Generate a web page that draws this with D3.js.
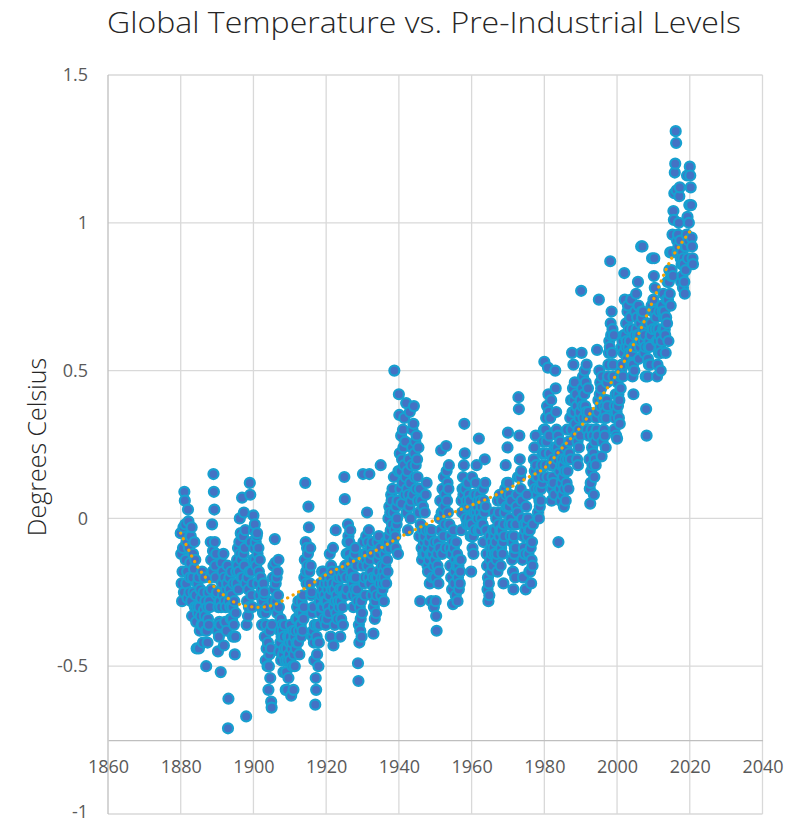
<!DOCTYPE html>
<html>
<head>
<meta charset="utf-8">
<script src="https://cdn.jsdelivr.net/npm/d3@7"></script>
<style>
  body { margin: 0; background: #fff; }
  text { font-family: "Open Sans", "DejaVu Sans", sans-serif; }
</style>
</head>
<body>
<div class="chart-container" id="svg-container"></div>
<script>
const svgWidth = 804;
const svgHeight = 822;
const chartTitle = "Global Temperature vs. Pre-Industrial Levels";
const yAxisLabel = "Degrees Celsius";

const xTicks = [1860, 1880, 1900, 1920, 1940, 1960, 1980, 2000, 2020, 2040];
const yTicks = [-1, -0.5, 0, 0.5, 1, 1.5];
const yTickLabels = ["-1", "-0.5", "0", "0.5", "1", "1.5"];

// eight readings per year
const t1880s = [
  [-0.05, -0.12, -0.22, -0.28, -0.18, -0.10, -0.03, -0.25],
  [0.09, 0.06, -0.02, -0.14, -0.22, -0.08, -0.18, -0.27],
  [0.03, -0.01, -0.10, -0.25, -0.20, -0.15, -0.06, -0.28],
  [-0.03, -0.33, -0.20, -0.12, -0.25, -0.17, -0.08, -0.30],
  [-0.14, -0.26, -0.35, -0.44, -0.30, -0.22, -0.32, -0.20],
  [-0.44, -0.30, -0.38, -0.24, -0.33, -0.27, -0.36, -0.18],
  [-0.36, -0.42, -0.25, -0.31, -0.20, -0.33, -0.28, -0.38],
  [-0.50, -0.38, -0.30, -0.42, -0.34, -0.25, -0.36, -0.28],
  [-0.30, -0.20, -0.08, -0.14, -0.24, -0.02, -0.18, -0.11],
  [0.15, 0.09, 0.03, -0.08, -0.16, -0.20, -0.12, -0.26]
];
const t1890s = [
  [-0.25, -0.38, -0.45, -0.30, -0.40, -0.35, -0.28, -0.36],
  [-0.52, -0.30, -0.15, -0.22, -0.18, -0.26, -0.12, -0.43],
  [-0.20, -0.28, -0.35, -0.30, -0.24, -0.38, -0.22, -0.16],
  [-0.71, -0.61, -0.28, -0.20, -0.24, -0.30, -0.34, -0.18],
  [-0.26, -0.34, -0.30, -0.40, -0.22, -0.36, -0.28, -0.46],
  [-0.40, -0.32, -0.18, -0.22, -0.14, -0.16, -0.10, -0.24],
  [-0.18, -0.08, 0.00, -0.12, -0.05, -0.14, -0.20, 0.07],
  [-0.20, -0.06, -0.12, 0.02, -0.16, -0.10, -0.04, -0.22],
  [-0.67, -0.36, -0.28, -0.20, -0.33, -0.24, -0.30, -0.18],
  [0.12, 0.08, -0.08, -0.18, -0.26, -0.30, -0.22, -0.14]
];
const t1900s = [
  [0.01, -0.04, -0.10, -0.02, -0.14, -0.08, -0.16, -0.06],
  [-0.05, -0.12, -0.22, -0.10, -0.18, -0.26, -0.14, -0.20],
  [-0.20, -0.30, -0.24, -0.36, -0.28, -0.32, -0.22, -0.26],
  [-0.25, -0.40, -0.32, -0.48, -0.36, -0.44, -0.30, -0.50],
  [-0.42, -0.58, -0.50, -0.46, -0.38, -0.54, -0.44, -0.62],
  [-0.64, -0.36, -0.28, -0.20, -0.16, -0.24, -0.30, -0.07],
  [-0.15, -0.22, -0.28, -0.20, -0.32, -0.18, -0.26, -0.14],
  [-0.30, -0.45, -0.38, -0.42, -0.34, -0.48, -0.40, -0.36],
  [-0.38, -0.46, -0.52, -0.40, -0.44, -0.36, -0.48, -0.58],
  [-0.52, -0.44, -0.58, -0.48, -0.40, -0.54, -0.46, -0.42]
];
const t1910s = [
  [-0.40, -0.48, -0.36, -0.60, -0.44, -0.42, -0.50, -0.38],
  [-0.58, -0.46, -0.40, -0.50, -0.38, -0.44, -0.34, -0.42],
  [-0.30, -0.34, -0.42, -0.28, -0.38, -0.46, -0.32, -0.36],
  [-0.36, -0.40, -0.28, -0.32, -0.38, -0.26, -0.34, -0.30],
  [-0.20, -0.14, 0.12, -0.08, -0.18, -0.22, -0.10, -0.16],
  [-0.12, 0.04, -0.03, -0.18, -0.22, -0.10, -0.16, -0.26],
  [-0.25, -0.32, -0.40, -0.38, -0.30, -0.42, -0.48, -0.36],
  [-0.63, -0.54, -0.58, -0.40, -0.46, -0.36, -0.42, -0.50],
  [-0.42, -0.36, -0.28, -0.32, -0.22, -0.26, -0.30, -0.18],
  [-0.24, -0.30, -0.18, -0.34, -0.26, -0.22, -0.28, -0.36]
];
const t1920s = [
  [-0.20, -0.28, -0.34, -0.24, -0.30, -0.22, -0.32, -0.26],
  [-0.12, -0.20, -0.40, -0.16, -0.24, -0.18, -0.22, -0.10],
  [-0.43, -0.30, -0.24, -0.36, -0.28, -0.04, -0.32, -0.26],
  [-0.22, -0.34, -0.28, -0.20, -0.30, -0.18, -0.24, -0.40],
  [-0.28, -0.34, -0.20, -0.24, -0.30, -0.36, -0.18, -0.26],
  [0.14, 0.065, -0.16, -0.26, -0.20, -0.12, -0.24, -0.08],
  [-0.02, -0.06, -0.12, -0.08, -0.16, -0.04, -0.14, -0.20],
  [-0.18, -0.26, -0.14, -0.22, -0.30, -0.20, -0.24, -0.12],
  [-0.10, -0.20, -0.26, -0.16, -0.24, -0.28, -0.49, -0.55],
  [-0.36, -0.42, -0.30, -0.38, -0.34, -0.28, -0.40, -0.32]
];
const t1930s = [
  [-0.16, 0.15, -0.08, -0.22, -0.12, -0.20, -0.26, -0.14],
  [-0.06, -0.12, 0.02, -0.16, -0.08, -0.20, -0.04, 0.15],
  [-0.14, -0.22, -0.10, -0.18, -0.26, -0.12, -0.08, -0.20],
  [-0.39, -0.30, -0.24, -0.34, -0.28, -0.20, -0.32, -0.26],
  [-0.20, -0.08, -0.14, -0.18, -0.06, -0.12, -0.22, -0.10],
  [0.18, -0.26, -0.20, -0.16, -0.24, -0.22, -0.18, -0.28],
  [-0.20, -0.12, -0.16, -0.08, -0.22, -0.10, -0.14, -0.18],
  [-0.08, 0.00, -0.06, 0.04, -0.10, 0.02, -0.04, 0.08],
  [0.06, -0.02, 0.10, -0.08, 0.02, 0.14, 0.50, -0.04],
  [-0.06, -0.10, 0.04, -0.02, 0.00, 0.06, -0.12, 0.16]
];
const t1940s = [
  [0.42, 0.35, 0.22, 0.10, 0.16, 0.28, 0.05, 0.20],
  [0.12, 0.30, 0.24, 0.18, 0.34, 0.08, 0.26, 0.14],
  [0.39, 0.02, 0.10, 0.16, -0.04, 0.08, 0.20, 0.04],
  [0.36, 0.12, 0.00, 0.06, 0.18, 0.24, 0.30, 0.08],
  [0.32, 0.38, 0.22, 0.14, 0.26, 0.18, 0.10, 0.28],
  [0.20, 0.14, 0.06, 0.24, 0.02, -0.06, 0.10, -0.28],
  [-0.02, 0.06, -0.10, -0.14, -0.04, 0.04, -0.12, -0.08],
  [-0.06, 0.02, -0.12, 0.08, -0.04, 0.12, -0.10, -0.16],
  [-0.18, -0.08, -0.14, -0.04, -0.22, -0.12, -0.06, -0.28],
  [-0.04, -0.12, -0.20, -0.10, -0.16, -0.30, -0.08, -0.14]
];
const t1950s = [
  [-0.20, -0.28, -0.33, -0.38, -0.12, -0.16, -0.08, -0.22],
  [-0.18, -0.10, 0.00, 0.06, -0.04, 0.23, 0.02, -0.12],
  [0.10, 0.02, -0.06, 0.14, 0.04, -0.02, 0.08, -0.10],
  [0.245, 0.16, 0.06, 0.12, 0.02, 0.10, 0.18, -0.02],
  [-0.10, -0.16, -0.06, -0.20, -0.12, -0.24, -0.08, -0.29],
  [-0.04, -0.10, -0.22, -0.18, -0.14, -0.26, -0.08, -0.16],
  [-0.12, -0.28, -0.20, -0.16, -0.24, -0.14, -0.22, -0.18],
  [-0.14, -0.04, 0.06, 0.02, 0.10, 0.14, 0.08, 0.18],
  [0.32, 0.22, 0.10, 0.04, 0.00, 0.06, -0.02, 0.12],
  [0.12, 0.04, 0.08, -0.02, 0.06, 0.00, -0.06, -0.18]
];
const t1960s = [
  [-0.02, 0.14, -0.10, -0.06, -0.12, 0.02, 0.08, -0.04],
  [0.08, 0.12, 0.02, 0.18, 0.04, 0.00, 0.06, -0.04],
  [0.27, 0.08, 0.02, -0.04, 0.06, 0.00, 0.04, -0.02],
  [-0.02, 0.10, -0.08, 0.06, 0.02, 0.20, 0.12, 0.04],
  [-0.04, -0.12, -0.16, -0.24, -0.20, -0.28, -0.22, -0.26],
  [-0.06, -0.14, -0.10, -0.18, -0.08, -0.12, -0.16, -0.04],
  [-0.10, 0.02, -0.06, -0.12, -0.04, -0.08, 0.00, -0.14],
  [-0.12, -0.18, 0.06, -0.02, 0.02, -0.06, 0.08, -0.04],
  [-0.16, -0.10, -0.04, 0.06, -0.12, -0.08, -0.22, -0.02],
  [-0.06, 0.02, 0.10, 0.18, 0.08, 0.04, 0.12, 0.24]
];
const t1970s = [
  [0.29, 0.12, 0.04, -0.02, 0.08, 0.00, -0.06, 0.06],
  [-0.02, -0.14, -0.08, -0.18, -0.24, -0.06, -0.12, -0.10],
  [-0.20, -0.10, -0.02, 0.04, 0.08, 0.02, 0.14, 0.41],
  [0.37, 0.28, 0.20, 0.14, 0.10, 0.16, 0.06, 0.00],
  [-0.14, -0.20, -0.06, -0.10, -0.02, -0.12, -0.04, -0.24],
  [0.04, -0.02, 0.08, -0.06, 0.00, -0.12, -0.04, -0.18],
  [-0.04, -0.18, -0.10, -0.22, -0.14, -0.08, -0.16, -0.02],
  [0.12, 0.20, 0.24, 0.16, 0.10, 0.28, 0.18, 0.14],
  [0.08, 0.14, 0.02, 0.10, 0.00, 0.06, 0.04, 0.16],
  [0.06, 0.10, 0.18, 0.12, 0.22, 0.26, 0.14, 0.30]
];
const t1980s = [
  [0.53, 0.22, 0.30, 0.18, 0.34, 0.26, 0.38, 0.14],
  [0.51, 0.42, 0.36, 0.28, 0.22, 0.34, 0.18, 0.40],
  [0.06, 0.10, 0.14, 0.20, 0.12, 0.18, 0.08, 0.24],
  [0.50, 0.44, 0.36, 0.30, 0.24, 0.20, 0.28, -0.08],
  [0.22, 0.16, 0.10, 0.26, 0.06, 0.18, 0.12, 0.20],
  [0.08, 0.14, 0.18, 0.04, 0.10, 0.16, 0.20, 0.06],
  [0.24, 0.12, 0.30, 0.16, 0.20, 0.10, 0.26, 0.22],
  [0.26, 0.34, 0.20, 0.40, 0.30, 0.56, 0.36, 0.44],
  [0.52, 0.40, 0.36, 0.46, 0.32, 0.28, 0.42, 0.38],
  [0.20, 0.26, 0.18, 0.30, 0.24, 0.34, 0.36, 0.28]
];
const t1990s = [
  [0.40, 0.77, 0.56, 0.44, 0.38, 0.48, 0.34, 0.42],
  [0.42, 0.50, 0.38, 0.46, 0.36, 0.52, 0.30, 0.34],
  [0.44, 0.36, 0.28, 0.20, 0.10, 0.05, 0.12, 0.16],
  [0.30, 0.24, 0.18, 0.28, 0.22, 0.08, 0.14, 0.20],
  [0.26, 0.18, 0.34, 0.30, 0.57, 0.28, 0.36, 0.40],
  [0.74, 0.50, 0.42, 0.46, 0.38, 0.44, 0.21, 0.48],
  [0.26, 0.40, 0.34, 0.30, 0.38, 0.28, 0.36, 0.24],
  [0.34, 0.40, 0.46, 0.38, 0.48, 0.52, 0.56, 0.60],
  [0.58, 0.87, 0.66, 0.62, 0.70, 0.56, 0.64, 0.52],
  [0.48, 0.62, 0.30, 0.38, 0.34, 0.42, 0.28, 0.36]
];
const t2000s = [
  [0.27, 0.46, 0.38, 0.42, 0.34, 0.40, 0.32, 0.48],
  [0.44, 0.50, 0.58, 0.52, 0.60, 0.48, 0.56, 0.62],
  [0.83, 0.74, 0.62, 0.58, 0.66, 0.60, 0.54, 0.70],
  [0.72, 0.58, 0.64, 0.56, 0.60, 0.68, 0.52, 0.74],
  [0.56, 0.64, 0.48, 0.52, 0.42, 0.58, 0.50, 0.62],
  [0.70, 0.58, 0.76, 0.64, 0.68, 0.62, 0.80, 0.72],
  [0.54, 0.62, 0.58, 0.66, 0.60, 0.92, 0.70, 0.68],
  [0.92, 0.70, 0.64, 0.60, 0.56, 0.62, 0.58, 0.48],
  [0.37, 0.28, 0.66, 0.48, 0.54, 0.58, 0.52, 0.60],
  [0.58, 0.52, 0.62, 0.66, 0.72, 0.88, 0.70, 0.64]
];
const t2010s = [
  [0.74, 0.82, 0.88, 0.78, 0.70, 0.64, 0.68, 0.60],
  [0.48, 0.52, 0.60, 0.64, 0.56, 0.70, 0.62, 0.58],
  [0.50, 0.56, 0.60, 0.72, 0.70, 0.64, 0.76, 0.68],
  [0.70, 0.64, 0.62, 0.56, 0.68, 0.74, 0.66, 0.80],
  [0.74, 0.60, 0.80, 0.84, 0.76, 0.90, 0.72, 0.82],
  [0.84, 0.90, 0.96, 0.82, 1.04, 1.01, 1.10, 1.17],
  [1.20, 1.31, 1.27, 1.11, 0.94, 0.90, 0.96, 0.92],
  [1.00, 1.09, 1.12, 0.94, 0.88, 0.80, 0.86, 0.90],
  [0.82, 0.78, 0.88, 0.86, 0.80, 0.76, 0.92, 0.84],
  [0.92, 0.96, 1.16, 1.02, 0.88, 0.94, 1.00, 1.06]
];
const t2020s = [
  [1.19, 1.16, 1.12, 1.06, 0.95, 0.92, 0.88, 0.86]
];

const trendYears = [1880, 1885, 1890, 1895, 1900, 1905, 1910, 1915, 1920, 1925, 1930, 1935, 1940, 1945, 1950,
                    1955, 1960, 1965, 1970, 1975, 1980, 1985, 1990, 1995, 2000, 2005, 2010, 2015, 2020];
const trendValues = [-0.05, -0.17, -0.24, -0.285, -0.30, -0.295, -0.265, -0.23, -0.19, -0.16, -0.13, -0.10, -0.065, -0.035, -0.005,
                     0.02, 0.045, 0.07, 0.10, 0.135, 0.17, 0.24, 0.31, 0.40, 0.49, 0.60, 0.74, 0.88, 0.97];

const decades = [t1880s, t1890s, t1900s, t1910s, t1920s, t1930s, t1940s, t1950s, t1960s, t1970s, t1980s, t1990s, t2000s, t2010s, t2020s];

function buildPoints() {
    let pts = [];
    decades.forEach(function(dec, di) {
        dec.forEach(function(yearVals, yi) {
            let year = 1880 + di * 10 + yi;
            yearVals.forEach(function(v, i) {
                pts.push({x: year + i / yearVals.length, y: v});
            });
        });
    });
    return pts;
}

function drawChart() {
    const svg = d3.select(".chart-container")
                  .append("svg")
                  .attr("id", "svg-element")
                  .attr("width", svgWidth)
                  .attr("height", svgHeight);

    const xScale = d3.scaleLinear().domain([1860, 2040]).range([108, 762.5]);
    const yScale = d3.scaleLinear().domain([-1, 1.5]).range([814, 75]);

    // grid
    svg.append("g").selectAll("line.h")
       .data(yTicks)
       .enter().append("line")
       .attr("x1", xScale(1860)).attr("x2", xScale(2040))
       .attr("y1", function(d) { return yScale(d); })
       .attr("y2", function(d) { return yScale(d); })
       .style("stroke", "#d9d9d9").style("stroke-width", 1.3);

    svg.append("g").selectAll("line.v")
       .data(xTicks)
       .enter().append("line")
       .attr("x1", function(d) { return xScale(d); })
       .attr("x2", function(d) { return xScale(d); })
       .attr("y1", yScale(1.5)).attr("y2", yScale(-1))
       .style("stroke", function(d) { return d === 1860 ? "#bfbfbf" : "#d9d9d9"; })
       .style("stroke-width", 1.3);

    // horizontal axis crosses at -0.75
    const xAxis = d3.axisBottom(xScale).tickValues(xTicks).tickSize(0).tickPadding(20).tickFormat(d3.format("d"));
    const gx = svg.append("g")
       .attr("transform", "translate(0," + yScale(-0.75) + ")")
       .call(xAxis);
    gx.select(".domain").style("stroke", "#bfbfbf").style("stroke-width", 1.3);
    gx.selectAll("text").style("font-size", "18px").style("fill", "#595959")
      .style("font-family", "'Open Sans', sans-serif");

    const yAxis = d3.axisLeft(yScale).tickValues(yTicks).tickSize(0).tickPadding(20)
                    .tickFormat(function(d, i) { return yTickLabels[i]; });
    const gy = svg.append("g")
       .attr("transform", "translate(" + xScale(1860) + ",0)")
       .call(yAxis);
    gy.select(".domain").remove();
    gy.selectAll("text").style("font-size", "18px").style("fill", "#595959")
      .style("font-family", "'Open Sans', sans-serif")
      .attr("dy", function(d) { return d === -1 ? "0.2em" : "0.32em"; });

    // points
    svg.append("g").selectAll("circle")
       .data(buildPoints())
       .enter().append("circle")
       .attr("cx", function(d) { return xScale(d.x); })
       .attr("cy", function(d) { return yScale(d.y); })
       .attr("r", 5)
       .style("fill", "#4472c4")
       .style("stroke", "#17a0d0")
       .style("stroke-width", 2.2);

    // trendline
    const trend = trendYears.map(function(y, i) { return [y, trendValues[i]]; });
    const line = d3.line()
                   .x(function(d) { return xScale(d[0]); })
                   .y(function(d) { return yScale(d[1]); })
                   .curve(d3.curveCatmullRom);
    svg.append("path")
       .datum(trend)
       .attr("d", line)
       .style("fill", "none")
       .style("stroke", "#f5a200")
       .style("stroke-width", 3.2)
       .style("stroke-linecap", "round")
       .style("stroke-dasharray", "0.1,6.2");

    // titles
    svg.append("text")
       .attr("x", 424)
       .attr("y", 33)
       .attr("text-anchor", "middle")
       .attr("textLength", 634)
       .attr("lengthAdjust", "spacingAndGlyphs")
       .style("font-size", "29px")
       .style("font-weight", 300)
       .style("fill", "#262626")
       .text(chartTitle);

    svg.append("text")
       .attr("transform", "translate(46,447) rotate(-90)")
       .attr("text-anchor", "middle")
       .style("font-size", "25px")
       .style("font-weight", 300)
       .style("fill", "#262626")
       .text(yAxisLabel);
}

drawChart();
</script>
</body>
</html>
